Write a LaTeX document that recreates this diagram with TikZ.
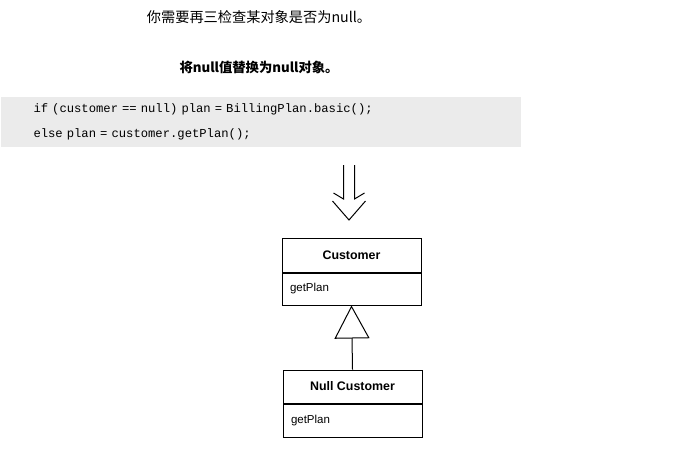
\documentclass[tikz,border=0pt]{standalone}
\usepackage{fontspec}
\setmainfont{Liberation Sans}
\setmonofont{Liberation Mono}
\newfontfamily\cjk{Noto Sans CJK SC}
\usetikzlibrary{arrows.meta,calc,positioning}
\tikzstyle{umlhead} = [draw, line width=1pt, minimum width=139pt, minimum height=34pt, font=\fontsize{12.4}{14}\selectfont\bfseries]
\tikzstyle{umlbody} = [draw, line width=1pt, minimum width=139pt, text width=123pt, align=left, inner xsep=8pt, font=\fontsize{11.5}{14}\selectfont]

\begin{document}
\begin{tikzpicture}[x=1pt,y=-1pt,line width=1pt]
        \useasboundingbox (0,0) rectangle (693,456);
        \node [font=\cjk\fontsize{14.2}{16}\selectfont] (title) at (259,17) {你需要再三检查某对象是否为null。};
        \node [font=\cjk\bfseries\fontsize{13.3}{16}\selectfont] (refactor) at (259,67) {将null值替换为null对象。};
        \node [fill=black!8, anchor=west, minimum width=520pt, minimum height=50pt, text width=454pt, inner xsep=33pt, align=left, font=\ttfamily\fontsize{12.2}{25}\selectfont] (code) at (0,122) {if (customer == null) plan = BillingPlan.basic();\\else plan = customer.getPlan();};
        % double arrow
        \coordinate (arrtop) at (349,165);
        \coordinate (arrtip) at (349,220);
        \draw (arrtop) ++(-5.5,0) -- ++(0,34) -- ++(-10,-6);
        \draw (arrtop) ++(5.5,0) -- ++(0,34) -- ++(10,-6);
        \draw ($(arrtip)+(-16.5,-19)$) -- (arrtip) -- ($(arrtip)+(16.5,-19)$);
        % classes
        \node [umlhead] (cust) at (351.5,255) {Customer};
        \node [umlbody, minimum height=32pt, below=0pt of cust] (custops) {getPlan};
        \node [umlhead, minimum height=33pt] (ncust) at (352.5,386.5) {Null Customer};
        \node [umlbody, minimum height=33pt, below=0pt of ncust] (ncustops) {getPlan};
        \draw [-{Triangle[open,length=33pt,width=35pt]}] (ncust.north) -- (custops.south);
    \end{tikzpicture}
\end{document}
